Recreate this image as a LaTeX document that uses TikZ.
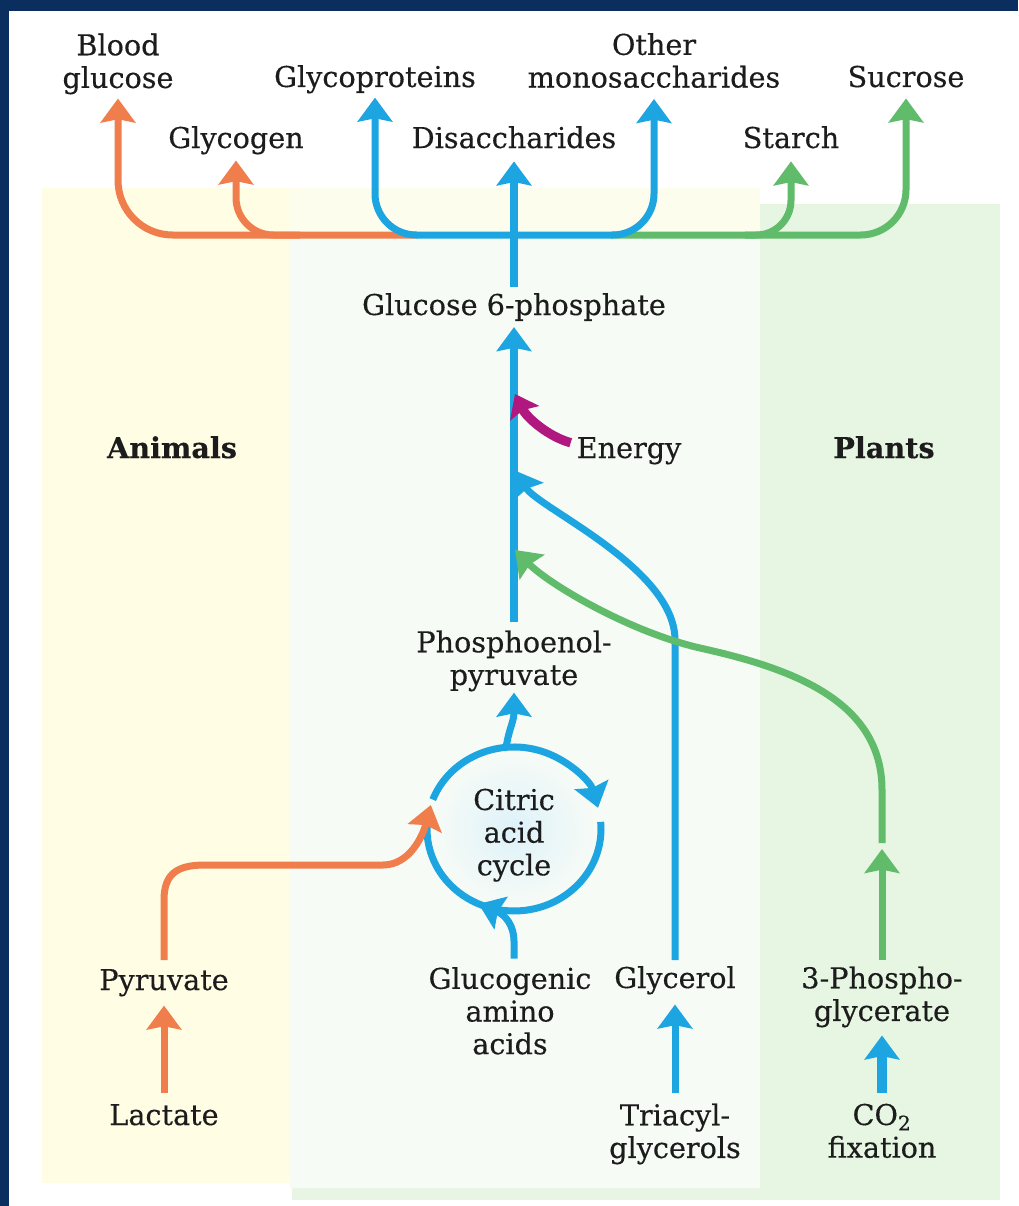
\documentclass[tikz,border=0pt]{standalone}
\usepackage{fontspec}
\setmainfont[FakeBold=0.35]{DejaVu Serif}
\usetikzlibrary{arrows.meta}

\definecolor{navy}{RGB}{10,46,94}
\definecolor{ink}{RGB}{28,28,28}
\definecolor{orangeC}{RGB}{240,126,76}
\definecolor{blueC}{RGB}{28,165,224}
\definecolor{greenC}{RGB}{96,188,106}
\definecolor{magentaC}{RGB}{176,24,128}
\definecolor{animalbg}{RGB}{255,253,228}
\definecolor{topbg}{RGB}{252,253,236}
\definecolor{midbg}{RGB}{247,251,246}
\definecolor{plantbg}{RGB}{230,246,226}
\definecolor{stripbg}{RGB}{232,245,228}
\definecolor{glow}{RGB}{222,242,250}

\newcommand\lblfont{\fontsize{21.5pt}{24.5pt}\selectfont}

\begin{document}
\begin{tikzpicture}[x=0.75pt,y=-0.75pt,
  lbl/.style={inner sep=0pt, outer sep=0pt, align=center, text=ink, font=\lblfont},
  headed/.style={-{Stealth[length=18pt,width=26pt,inset=2.5pt]}},
  oline/.style={line width=5.25pt, draw=orangeC},
  bline/.style={line width=5.25pt, draw=blueC},
  gline/.style={line width=5.25pt, draw=greenC},
  oflow/.style={oline, headed},
  bflow/.style={bline, headed},
  gflow/.style={gline, headed},
  trunk/.style={bflow, line width=6pt},
  mflow/.style={line width=7pt, draw=magentaC, -{Stealth[length=16pt,width=24pt,inset=2.5pt]}}]

% backdrop and panels
\fill[navy] (0,0) rectangle (1018,1206);
\fill[white] (9,11) rectangle (1018,1206);
\useasboundingbox (0,0) rectangle (1018,1206);
\fill[animalbg] (42,188) rectangle (290,1183);
\fill[topbg] (290,188) rectangle (760,235);
\fill[midbg] (290,235) rectangle (760,1188);
\fill[stripbg] (292,1188) rectangle (760,1200);
\fill[plantbg] (760,204) rectangle (1000,1200);

% key points
\coordinate (hub) at (514,235);
\coordinate (oL) at (417,235);
\coordinate (gyj) at (300,235);
\coordinate (gR) at (611,235);
\coordinate (stj) at (745,235);
\coordinate (cyc) at (514,829);
\coordinate (jE) at (515,394);
\coordinate (jG) at (516,471);
\coordinate (jP) at (515,550);
\coordinate (gmid) at (882,849);
\coordinate (gtop) at (882,843);
\coordinate (cS) at (506,748);
\coordinate (lacj) at ([shift={(197:87 and 82)}]cyc);
\coordinate (gaj) at ([shift={(114:87 and 82)}]cyc);

% glow inside the cycle
\shade[inner color=glow, outer color=midbg] (cyc) ellipse [x radius=84, y radius=79];

% labels
\node[lbl] (bg) at (118,63.9) {Blood\\glucose};
\node[lbl, anchor=base] (gp) at (375,87) {Glycoproteins};
\node[lbl] (om) at (654,60.5) {Other\\monosaccharides};
\node[lbl, anchor=base] (su) at (906,87) {Sucrose};
\node[lbl, anchor=base] (gy) at (236,148) {Glycogen};
\node[lbl, anchor=base] (di) at (514,148) {Disaccharides};
\node[lbl, anchor=base] (st) at (791,148) {Starch};
\node[lbl, anchor=base] (g6p) at (514,315) {Glucose 6-phosphate};
\node[lbl, anchor=base, font=\lblfont\bfseries] (an) at (172,458) {Animals};
\node[lbl, anchor=base] (en) at (629,458) {Energy};
\node[lbl, anchor=base, font=\lblfont\bfseries] (pl) at (884,458) {Plants};
\node[lbl] (pep) at (514,660.9) {Phosphoenol-\\pyruvate};
\node[lbl] (cac) at (514,835.2) {Citric\\acid\\cycle};
\node[lbl, anchor=base] (py) at (164,990) {Pyruvate};
\node[lbl] (ga) at (510,1010.8) {Glucogenic\\amino\\acids};
\node[lbl, anchor=base] (gl) at (675,988) {Glycerol};
\node[lbl] (pg) at (882,996.9) {3-Phospho-\\glycerate};
\node[lbl, anchor=base] (la) at (164,1125) {Lactate};
\node[lbl] (tg) at (675,1133.9) {Triacyl-\\glycerols};
\node[lbl] (co) at (882,1130.9) {CO\textsubscript{2}\\fixation};

% distribution from glucose 6-phosphate
\draw[oflow, rounded corners=41pt, shorten >=3.2pt] (oL) -| (bg.south);
\draw[oflow, rounded corners=28pt, shorten >=4.6pt] (gyj) -| (gy.south);
\draw[gflow, rounded corners=34pt, shorten >=8.3pt] (gR) -| (su.south);
\draw[gflow, rounded corners=26pt, shorten >=9.75pt] (stj) -| (st.south);
\draw[bflow, rounded corners=31pt, shorten >=3.2pt] (hub) -| (gp.south);
\draw[bflow, rounded corners=31pt, shorten >=8.3pt] (hub) -| (om.south);
\draw[trunk, shorten <=4.5pt, shorten >=9.75pt] (g6p.north) -- (di.south);

% gluconeogenic trunk
\draw[trunk, shorten <=6pt, shorten >=4.6pt] (pep.north) -- (g6p.south);

% energy input
\draw[mflow] ([shift={(-6,-8)}]en.west) .. controls +(-22,-6) and +(12,24) .. (jE);

% glycerol feed
\draw[bflow, shorten <=4.5pt] (gl.north) -- (675,640) .. controls (675,568) and (538,508) .. (jG);

% 3-phosphoglycerate feed
\draw[gflow, shorten <=4.6pt] (pg.north) -- (gmid);
\draw[gflow] (gtop) -- (882,790) .. controls (882,700) and (790,668) .. (700,648)
  .. controls (630,632) and (550,585) .. (jP);

% citric acid cycle ring
\draw[bflow] ([shift={(201:87 and 82)}]cyc) arc[start angle=201, end angle=345, x radius=87, y radius=82];
\draw[bline] ([shift={(-5:87 and 82)}]cyc) arc[start angle=-5, end angle=193, x radius=87, y radius=82];
\draw[bflow, shorten >=1pt] (cS) .. controls (509,728) and (514,722) .. (pep.south);
\draw[bflow, shorten <=6.3pt] ([xshift=3pt]ga.north) -- ++(0,-26) .. controls +(0,-15) and +(27,11) .. (gaj);

% pyruvate and lactate
\draw[oflow, shorten <=6.75pt] (py.north) -- (164,900) .. controls (164,873) and (178,865) .. (205,865)
  -- (383,865) .. controls (410,865) and (423,835) .. (lacj);
\draw[oflow, shorten <=8pt, shorten >=6.9pt] (la.north) -- (py.south);

% triacylglycerols and CO2 fixation
\draw[bflow, shorten <=7.6pt, shorten >=7.6pt] (tg.north) -- (gl.south);
\draw[bflow, line width=8pt, shorten <=8.4pt, shorten >=6.1pt] (co.north) -- (pg.south);

\end{tikzpicture}
\end{document}
